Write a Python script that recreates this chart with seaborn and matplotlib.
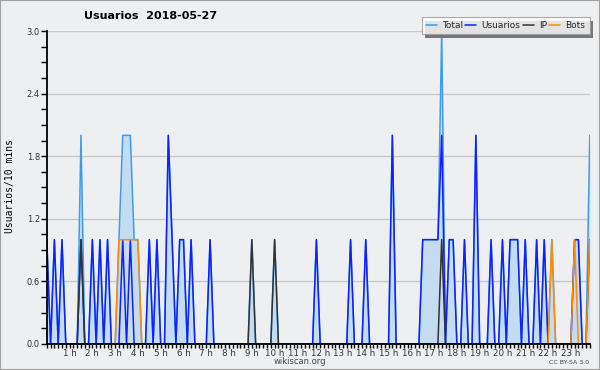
import numpy as np
import pandas as pd
import matplotlib
matplotlib.use("Agg")
import matplotlib.pyplot as plt
import matplotlib.transforms as mtransforms
from matplotlib.patches import Rectangle
from matplotlib.lines import Line2D
import seaborn as sns

# ---- data: one value per 10-minute slot (144 slots, 6 per hour) ----
total = [
    1, 0, 1, 0, 1, 0,   # 0 h
    0, 0, 0, 2, 0, 0,   # 1 h
    1, 0, 1, 0, 1, 0,   # 2 h
    0, 1, 2, 2, 2, 1,   # 3 h
    1, 0, 0, 1, 0, 1,   # 4 h
    0, 0, 2, 1, 0, 1,   # 5 h
    1, 0, 1, 0, 0, 0,   # 6 h
    0, 1, 0, 0, 0, 0,   # 7 h
    0, 0, 0, 0, 0, 0,   # 8 h
    1, 0, 0, 0, 0, 0,   # 9 h
    1, 0, 0, 0, 0, 0,   # 10 h
    0, 0, 0, 0, 0, 1,   # 11 h
    0, 0, 0, 0, 0, 0,   # 12 h
    0, 0, 1, 0, 0, 0,   # 13 h
    1, 0, 0, 0, 0, 0,   # 14 h
    0, 2, 0, 0, 0, 0,   # 15 h
    0, 0, 0, 1, 1, 1,   # 16 h
    1, 1, 3, 0, 1, 1,   # 17 h
    0, 0, 1, 0, 0, 2,   # 18 h
    0, 0, 0, 1, 0, 0,   # 19 h
    1, 0, 1, 1, 1, 0,   # 20 h
    1, 0, 0, 1, 0, 1,   # 21 h
    0, 1, 0, 0, 0, 0,   # 22 h
    0, 1, 1, 0, 0, 2,   # 23 h
]
usuarios = [
    1, 0, 1, 0, 1, 0,
    0, 0, 0, 1, 0, 0,
    1, 0, 1, 0, 1, 0,
    0, 0, 1, 0, 1, 0,
    0, 0, 0, 1, 0, 1,
    0, 0, 2, 1, 0, 1,
    1, 0, 1, 0, 0, 0,
    0, 1, 0, 0, 0, 0,
    0, 0, 0, 0, 0, 0,
    0, 0, 0, 0, 0, 0,
    0, 0, 0, 0, 0, 0,
    0, 0, 0, 0, 0, 1,
    0, 0, 0, 0, 0, 0,
    0, 0, 1, 0, 0, 0,
    1, 0, 0, 0, 0, 0,
    0, 2, 0, 0, 0, 0,
    0, 0, 0, 1, 1, 1,
    1, 1, 2, 0, 1, 1,
    0, 0, 1, 0, 0, 2,
    0, 0, 0, 1, 0, 0,
    1, 0, 1, 1, 1, 0,
    1, 0, 0, 1, 0, 1,
    0, 0, 0, 0, 0, 0,
    0, 1, 1, 0, 0, 0,
]
ip = [
    0, 0, 0, 0, 0, 0,
    0, 0, 0, 1, 0, 0,
    0, 0, 0, 0, 0, 0,
    0, 0, 0, 0, 0, 0,
    0, 0, 0, 0, 0, 0,
    0, 0, 0, 0, 0, 0,
    0, 0, 0, 0, 0, 0,
    0, 0, 0, 0, 0, 0,
    0, 0, 0, 0, 0, 0,
    1, 0, 0, 0, 0, 0,
    1, 0, 0, 0, 0, 0,
    0, 0, 0, 0, 0, 0,
    0, 0, 0, 0, 0, 0,
    0, 0, 0, 0, 0, 0,
    0, 0, 0, 0, 0, 0,
    0, 0, 0, 0, 0, 0,
    0, 0, 0, 0, 0, 0,
    0, 0, 1, 0, 0, 0,
    0, 0, 0, 0, 0, 0,
    0, 0, 0, 0, 0, 0,
    0, 0, 0, 0, 0, 0,
    0, 0, 0, 0, 0, 0,
    0, 0, 0, 0, 0, 0,
    0, 0, 0, 0, 0, 1,
]
bots = [
    0, 0, 0, 0, 0, 0,
    0, 0, 0, 0, 0, 0,
    0, 0, 0, 0, 0, 0,
    0, 1, 1, 1, 1, 1,
    1, 0, 0, 0, 0, 0,
    0, 0, 0, 0, 0, 0,
    0, 0, 0, 0, 0, 0,
    0, 0, 0, 0, 0, 0,
    0, 0, 0, 0, 0, 0,
    0, 0, 0, 0, 0, 0,
    0, 0, 0, 0, 0, 0,
    0, 0, 0, 0, 0, 0,
    0, 0, 0, 0, 0, 0,
    0, 0, 0, 0, 0, 0,
    0, 0, 0, 0, 0, 0,
    0, 0, 0, 0, 0, 0,
    0, 0, 0, 0, 0, 0,
    0, 0, 0, 0, 0, 0,
    0, 0, 0, 0, 0, 0,
    0, 0, 0, 0, 0, 0,
    0, 0, 0, 0, 0, 0,
    0, 0, 0, 0, 0, 0,
    0, 1, 0, 0, 0, 0,
    0, 1, 0, 0, 0, 1,
]
hour_labels = ["1 h", "2 h", "3 h", "4 h", "5 h", "6 h", "7 h", "8 h", "9 h",
               "10 h", "11 h", "12 h", "13 h", "14 h", "15 h", "16 h", "17 h",
               "18 h", "19 h", "20 h", "21 h", "22 h", "23 h"]
series_names = ["Total", "Usuarios", "IP", "Bots"]
title_text = "Usuarios  2018-05-27"
ylabel_text = "Usuarios/10 mins"

# ---- styling ----
BG = "#eeeff1"
C_TOTAL = "#3d9cf0"
C_USR = "#1020ff"
C_IP = "#333333"
C_BOTS = "#ff8c00"
C_FILL = "#c4dcf0"

slots = np.arange(len(total))
df = pd.DataFrame({"slot": slots, "Total": total, "Usuarios": usuarios,
                   "IP": ip, "Bots": bots})

sns.set_theme(style="white")
plt.rcParams["font.family"] = ["DejaVu Sans"]

fig = plt.figure(figsize=(6.0, 3.7), dpi=100, facecolor=BG)
ax = fig.add_axes([0.078, 0.0703, 0.905, 0.8459])
ax.set_facecolor(BG)

ax.fill_between(df["slot"], 0, df["Total"], color=C_FILL, lw=0, zorder=1)
sns.lineplot(data=df, x="slot", y="Total", color=C_TOTAL, lw=1.1, ax=ax, zorder=3)
sns.lineplot(data=df, x="slot", y="Usuarios", color=C_USR, lw=1.1, ax=ax, zorder=4)
sns.lineplot(data=df, x="slot", y="IP", color=C_IP, lw=1.1, ax=ax, zorder=5)
sns.lineplot(data=df, x="slot", y="Bots", color=C_BOTS, lw=1.1, ax=ax, zorder=6)

ax.set_xlim(0, len(total) - 1)
ax.set_ylim(0, 3.0)

# grid
ax.set_yticks([0.0, 0.6, 1.2, 1.8, 2.4, 3.0])
ax.set_yticklabels(["0.0", "0.6", "1.2", "1.8", "2.4", "3.0"])
ax.set_yticks(np.arange(0, 3.01, 0.15), minor=True)
ax.yaxis.grid(True, color="#c8c8c8", lw=1.0, zorder=0)
ax.set_axisbelow(True)

# x ticks
ax.set_xticks([6 * (i + 1) for i in range(len(hour_labels))])
ax.set_xticklabels(hour_labels)
ax.set_xticks(slots, minor=True)
offset = mtransforms.ScaledTranslation(-3.5 / 100, 0, fig.dpi_scale_trans)
for lab in ax.get_xticklabels():
    lab.set_transform(lab.get_transform() + offset)

ax.tick_params(axis="x", which="both", direction="out", length=3, width=1,
               color="black", labelsize=6.3, labelcolor="#333333", pad=0.5,
               bottom=True)
ax.tick_params(axis="y", which="both", direction="out", length=4, width=1,
               color="black", labelsize=6, labelcolor="#333333", pad=1,
               left=True)

for s in ["top", "right"]:
    ax.spines[s].set_visible(False)
for s in ["left", "bottom"]:
    ax.spines[s].set_color("black")
    ax.spines[s].set_linewidth(1.3)
    ax.spines[s].set_zorder(10)

ax.set_xlabel("")
ax.set_ylabel("")

# texts
fig.text(150.8 / 600, 1 - 16 / 370, title_text, ha="center", va="center",
         fontsize=8, fontweight="bold", color="black")
fig.text(10 / 600, 1 - 186 / 370, ylabel_text, ha="center", va="center",
         rotation=90, fontsize=7, family="DejaVu Sans Mono", color="black")
fig.text(300 / 600, 1 - 361 / 370, "wikiscan.org", ha="center", va="center",
         fontsize=6, color="#444444")
fig.text(589 / 600, 1 - 362 / 370, "CC BY-SA 3.0", ha="right", va="center",
         fontsize=4.5, color="#444444")

# legend (white box with a flat dark shadow)
handles = [Line2D([], [], color=c, lw=1.1) for c in (C_TOTAL, C_USR, C_IP, C_BOTS)]
leg = fig.legend(handles, series_names, ncol=4, loc="upper right",
                 bbox_to_anchor=(589.5 / 600, 1 - 17 / 370), frameon=True,
                 fontsize=6.5, handlelength=1.2, handletextpad=0.6,
                 columnspacing=0.25, borderpad=0.45, borderaxespad=0.0,
                 fancybox=False, shadow=False)
leg.get_frame().set_facecolor("white")
leg.get_frame().set_edgecolor("#999999")
leg.get_frame().set_linewidth(0.8)
leg.set_zorder(20)

fig.canvas.draw()
bb = leg.get_window_extent().transformed(fig.transFigure.inverted())
dx, dy = 3.5 / 600, 3.5 / 370
fig.patches.append(Rectangle((bb.x0 + dx, bb.y0 - dy), bb.width, bb.height,
                             transform=fig.transFigure, facecolor="#777777",
                             edgecolor="none", zorder=19))

# figure border
fig.patches.append(Rectangle((0, 0), 1, 1, transform=fig.transFigure,
                             fill=False, edgecolor="#a0a0a0", lw=1.5))

fig.savefig("out.png", dpi=100, facecolor=BG)
